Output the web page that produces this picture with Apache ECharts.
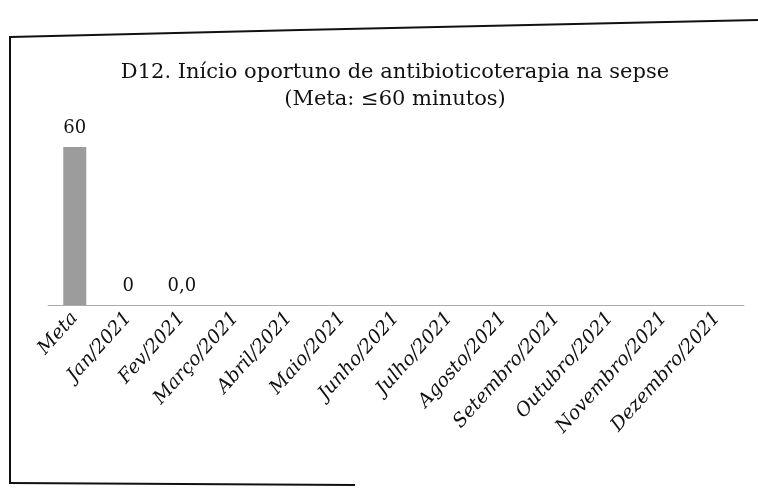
<!DOCTYPE html>
<html><head><meta charset="utf-8">
<script src="https://cdn.jsdelivr.net/npm/echarts@6/dist/echarts.min.js"></script>
<style>html,body{margin:0;padding:0;background:#fff}#c{width:758px;height:492px}</style>
</head><body><div id="c"></div>
<script>
const categories = ['Meta','Jan/2021','Fev/2021','Março/2021','Abril/2021','Maio/2021','Junho/2021','Julho/2021','Agosto/2021','Setembro/2021','Outubro/2021','Novembro/2021','Dezembro/2021'];
const values = [60, 0, 0, null, null, null, null, null, null, null, null, null, null];
const valueLabels = ['60', '0', '0,0', '', '', '', '', '', '', '', '', '', ''];

const chart = echarts.init(document.getElementById('c'));
chart.setOption({
  animation: false,
  title: {
    text: 'D12. Início oportuno de antibioticoterapia na sepse\n(Meta: ≤60 minutos)',
    left: 390, top: 54, textAlign: 'center',
    textStyle: { fontFamily: 'DejaVu Serif', fontSize: 21, fontWeight: 'normal', color: '#111', lineHeight: 27 }
  },
  grid: { left: 48, right: 14, top: 147, bottom: 187, containLabel: false },
  xAxis: {
    type: 'category', data: categories,
    axisLine: { lineStyle: { color: '#aaa', width: 1 } },
    axisTick: { show: false },
    axisLabel: { rotate: 48, interval: 0, margin: 10, fontFamily: 'DejaVu Serif', fontStyle: 'italic', fontSize: 19, color: '#111' }
  },
  yAxis: { type: 'value', min: 0, max: 60, show: false, splitLine: { show: false } },
  series: [{
    type: 'bar', data: values, barWidth: 23,
    itemStyle: { color: '#9c9c9c', borderWidth: 0 },
    label: {
      show: true, position: 'top', distance: 10,
      fontFamily: 'DejaVu Serif', fontSize: 18, color: '#111',
      formatter: p => valueLabels[p.dataIndex]
    }
  }],
  graphic: [
    { type: 'polyline', shape: { points: [[10, 37], [300, 30], [758, 20]] }, style: { stroke: '#111', lineWidth: 2, fill: null } },
    { type: 'line', shape: { x1: 10, y1: 36, x2: 10, y2: 484 }, style: { stroke: '#111', lineWidth: 2 } },
    { type: 'line', shape: { x1: 10, y1: 483, x2: 355, y2: 485 }, style: { stroke: '#111', lineWidth: 2 } }
  ]
});
</script></body></html>
